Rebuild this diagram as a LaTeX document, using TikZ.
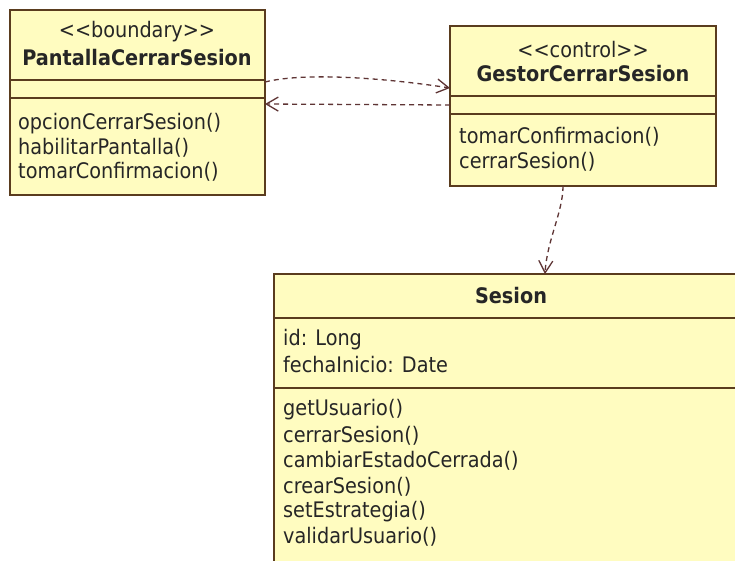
\documentclass[tikz,border=0pt]{standalone}
\usepackage{fontspec}
\setmainfont{DejaVu Sans Condensed}
\usetikzlibrary{arrows.meta}
\definecolor{umlfill}{HTML}{FFFCC0}
\definecolor{umlline}{HTML}{5A3C1E}
\definecolor{deparrow}{HTML}{5E3434}
\begin{document}
\begin{tikzpicture}[x=1pt,y=-1pt,
  cls/.style={draw=umlline, fill=umlfill, line width=1.3pt, inner sep=0pt, outer sep=0pt, anchor=north west},
  sep/.style={draw=umlline, line width=1.3pt},
  txt/.style={inner sep=0pt, font=\fontsize{21.4}{25}\selectfont, text=black!85},
  lt/.style={txt, anchor=west},
  ttl/.style={txt, font=\fontsize{21.4}{25}\selectfont\bfseries},
  dep/.style={draw=deparrow, line width=1.3pt, dash pattern=on 5pt off 4pt, -{Straight Barb[length=12pt,width=14pt]}}
]
\path[use as bounding box, clip] (0,0) rectangle (735,560);
\fill[white] (0,0) rectangle (735,560);

% PantallaCerrarSesion
\node[cls, minimum width=255pt, minimum height=185pt] (pan) at (10,10) {};
\draw[sep] ([yshift=-70pt]pan.north west) -- ([yshift=-70pt]pan.north east);
\draw[sep] ([yshift=-88pt]pan.north west) -- ([yshift=-88pt]pan.north east);
\node[txt] (panst) at (137,32) {<{}<boundary>{}>};
\node[ttl] (panname) at (137,58) {PantallaCerrarSesion};
\node[lt] (pan1) at (18,124) {opcionCerrarSesion()};
\node[lt] (pan2) at (18,148) {habilitarPantalla()};
\node[lt] (pan3) at (18,172) {tomarConfirmacion()};

% GestorCerrarSesion
\node[cls, minimum width=266pt, minimum height=160pt] (ges) at (450,26) {};
\draw[sep] ([yshift=-70pt]ges.north west) -- ([yshift=-70pt]ges.north east);
\draw[sep] ([yshift=-88pt]ges.north west) -- ([yshift=-88pt]ges.north east);
\node[txt] (gesst) at (583,50) {<{}<control>{}>};
\node[ttl] (gesname) at (583,74) {GestorCerrarSesion};
\node[lt] (ges1) at (459,137) {tomarConfirmacion()};
\node[lt] (ges2) at (459,162) {cerrarSesion()};

% Sesion
\node[cls, minimum width=500pt, minimum height=400pt] (ses) at (274,274) {};
\draw[sep] ([yshift=-44pt]ses.north west) -- ([yshift=-44pt]ses.north east);
\draw[sep] ([yshift=-114pt]ses.north west) -- ([yshift=-114pt]ses.north east);
\node[ttl] (sesname) at (511,296) {Sesion};
\node[lt] (sesa1) at (283,340) {id: Long};
\node[lt] (sesa2) at (283,365) {fechaInicio: Date};
\node[lt] (seso1) at (283,410) {getUsuario()};
\node[lt] (seso2) at (283,436) {cerrarSesion()};
\node[lt] (seso3) at (283,461) {cambiarEstadoCerrada()};
\node[lt] (seso4) at (283,487) {crearSesion()};
\node[lt] (seso5) at (283,512) {setEstrategia()};
\node[lt] (seso6) at (283,537) {validarUsuario()};

% dependencies
\draw[dep] ([yshift=-72pt]pan.north east) .. controls (305,72) and (385,78) .. ([yshift=-62pt]ges.north west);
\draw[dep] ([yshift=-79pt]ges.north west) -- ([yshift=-94pt]pan.north east);
\draw[dep] ([xshift=113pt]ges.south west) .. controls (563,212) and (547,240) .. ([xshift=271pt]ses.north west);
\end{tikzpicture}
\end{document}
